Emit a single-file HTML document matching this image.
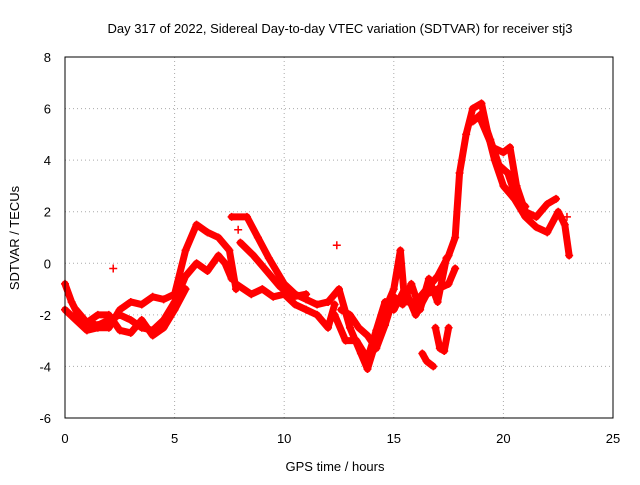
<!DOCTYPE html>
<html><head><meta charset="utf-8"><style>
body{margin:0;background:#fff}
svg text{font-family:"Liberation Sans",sans-serif;font-size:13px;fill:#000}
</style></head><body>
<svg id="chart" width="640" height="480">
<text x="340" y="33" text-anchor="middle">Day 317 of 2022, Sidereal Day-to-day VTEC variation (SDTVAR) for receiver stj3</text>
<text x="335" y="471" text-anchor="middle">GPS time / hours</text>
<text transform="translate(19,238) rotate(-90)" text-anchor="middle">SDTVAR / TECUs</text>
<g id="grid"></g><g id="marks"></g>
<rect x="65" y="57" width="548" height="361" fill="none" stroke="#000"/>
</svg>
<script>
const xTicks=[0,5,10,15,20,25];
const yTicks=[-6,-4,-2,0,2,4,6,8];
const trackA_t=[0,0.3,0.6,1,1.5,2,2.5,3,3.5,4,4.5,5,5.5,6,6.5,7,7.3,7.6];
const trackA_v=[-0.8,-1.5,-2.0,-2.3,-2.4,-2.2,-2.0,-2.2,-2.5,-2.6,-2.2,-1.5,-0.5,0,-0.3,0.3,0,-0.6];
const trackB_t=[0,0.5,1,1.5,2,2.5,3,3.5,4,4.5,5,5.5,6,6.5,7,7.5,7.8];
const trackB_v=[-1.8,-2.2,-2.6,-2.5,-2.5,-1.8,-1.5,-1.6,-1.3,-1.4,-1.2,0.5,1.5,1.2,1.0,0.5,-1.0];
const trackJ_t=[0.5,1,1.5,2,2.5,3,3.5,4,4.5,5,5.5];
const trackJ_v=[-1.8,-2.3,-2.0,-2.0,-2.6,-2.7,-2.2,-2.8,-2.5,-1.8,-1.0];
const trackC_t=[7.6,8.3,8.8,9.3,10,10.5,11,11.5,12];
const trackC_v=[1.8,1.8,1.0,0.2,-0.8,-1.2,-1.4,-1.6,-1.5];
const trackK_t=[8,8.6,9.2,9.8,10.4,11];
const trackK_v=[0.8,0.3,-0.3,-0.9,-1.3,-1.2];
const trackD_t=[7.8,8.5,9,9.5,10,10.5,11,11.5,12,12.3];
const trackD_v=[-0.8,-1.2,-1.0,-1.3,-1.2,-1.6,-1.8,-2.0,-2.5,-1.6];
const trackE_t=[12,12.5,13,13.5,13.8,14.2,14.5,15,15.3,15.5,16,16.5,17,17.5,17.8,18,18.3,18.6,19,19.3,19.6,20,20.5,21,21.5,22,22.5,22.8,23];
const trackE_v=[-1.5,-1,-2.5,-3.5,-4.1,-3,-2,-1,0.5,-1.5,-1.5,-1,-0.5,0.3,1,3.5,5,6,6.2,5,4,3,2.5,1.8,1.4,1.2,2,1.5,0.3];
const trackF_t=[12.3,12.8,13.3,13.8,14.2,14.6,15,15.5,16,16.5,17,17.5,17.8];
const trackF_v=[-2.0,-3.0,-3.0,-3.7,-2.6,-1.5,-1.8,-1.0,-2.0,-1.2,-1.0,-0.8,-0.2];
const trackL_t=[12.6,13,13.4,13.8,14.2,14.6,15,15.4,15.8,16.2,16.6,17,17.4];
const trackL_v=[-1.8,-2.0,-2.5,-2.8,-3.3,-2.4,-1.3,-1.6,-0.8,-1.8,-0.6,-1.5,0.2];
const trackG_t=[19,19.5,20,20.3,20.6,21,21.5,22,22.4];
const trackG_v=[5.5,4.5,4.3,4.5,3,2,1.8,2.3,2.5];
const trackM_t=[18.6,19,19.4,19.8,20.2,20.6,21];
const trackM_v=[5.5,5.8,4.8,3.8,3.5,2.5,2.2];
const trackH_t=[16.3,16.5,16.8];
const trackH_v=[-3.5,-3.8,-4.0];
const trackI_t=[16.9,17.1,17.3,17.5];
const trackI_v=[-2.5,-3.3,-3.4,-2.5];
const outlier_t=[2.2,12.4,7.9,22.9];
const outlier_v=[-0.2,0.7,1.3,1.8];
const X=t=>65+t*548/25, Y=v=>418-(v+6)*361/14;
const NS="http://www.w3.org/2000/svg";
const grid=document.getElementById('grid'),marks=document.getElementById('marks');
function mk(tag,at,parent){const e=document.createElementNS(NS,tag);for(const k in at)e.setAttribute(k,at[k]);parent.appendChild(e);return e;}
xTicks.forEach(t=>{
 const l=mk('line',{x1:X(t),x2:X(t),y1:57,y2:418,stroke:'#aaa','stroke-dasharray':'1,3'},grid);
 
 
 const s=mk('text',{x:X(t),y:443,'text-anchor':'middle'},grid);s.textContent=t;
 
 
});
yTicks.forEach(v=>{
 const l=mk('line',{x1:65,x2:613,y1:Y(v),y2:Y(v),stroke:'#aaa','stroke-dasharray':'1,3'},grid);
 
 
 const s=mk('text',{x:51,y:Y(v)+5,'text-anchor':'end'},grid);s.textContent=v;
 
 
});
const tracks=[[trackA_t,trackA_v],[trackB_t,trackB_v],[trackJ_t,trackJ_v],[trackC_t,trackC_v],[trackK_t,trackK_v],[trackD_t,trackD_v],[trackE_t,trackE_v],[trackF_t,trackF_v],[trackL_t,trackL_v],[trackG_t,trackG_v],[trackM_t,trackM_v],[trackH_t,trackH_v],[trackI_t,trackI_v]];
tracks.forEach(([ts,vs])=>{
 const p=mk('polyline',{points:ts.map((t,i)=>X(t)+','+Y(vs[i])).join(' '),fill:'none',stroke:'#f00','stroke-width':7,'stroke-linejoin':'round','stroke-linecap':'round'},marks);
 
 
 ts.forEach((t,i)=>{
  const m=mk('path',{d:`M${X(t)-4},${Y(vs[i])}h8M${X(t)},${Y(vs[i])-4}v8`,stroke:'#f00','stroke-width':1.5},marks);
  
  
 });
});
outlier_t.forEach((t,i)=>{
 const m=mk('path',{d:`M${X(t)-4},${Y(outlier_v[i])}h8M${X(t)},${Y(outlier_v[i])-4}v8`,stroke:'#f00','stroke-width':1.5},marks);
 
 
});
</script>
</body></html>
